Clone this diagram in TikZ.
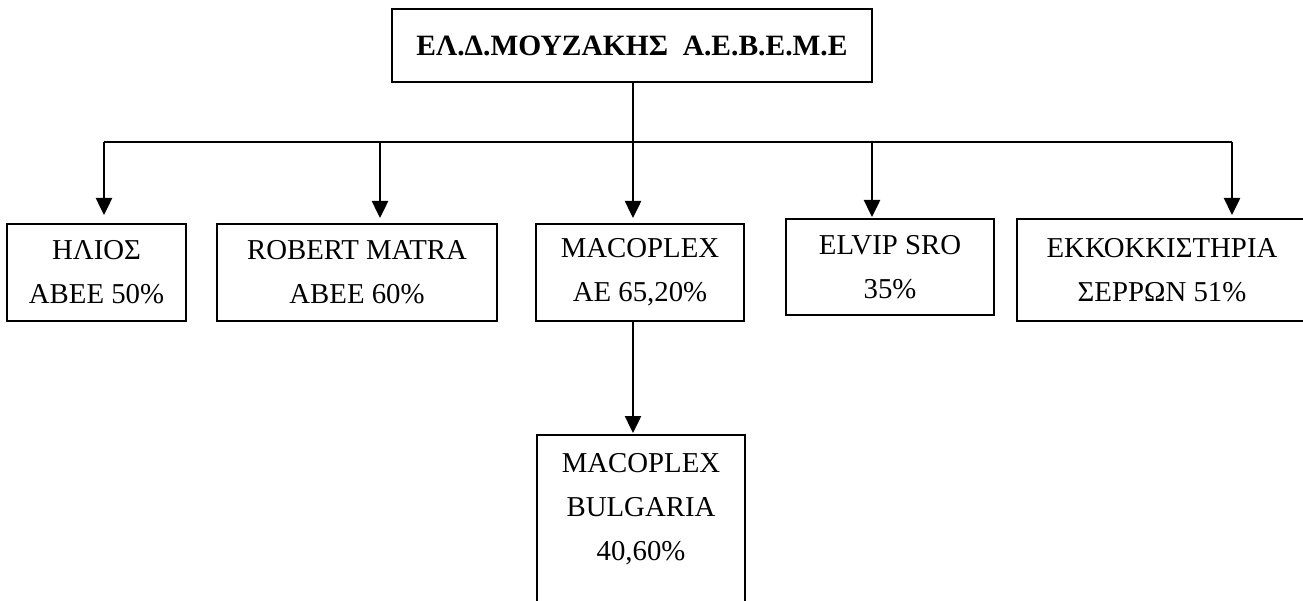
\documentclass[tikz,border=0pt]{standalone}
\usepackage{fontspec}
\setmainfont{Liberation Serif}
\usetikzlibrary{arrows.meta}
\begin{document}
\begin{tikzpicture}[x=1pt,y=-1pt,
  box/.style={draw, line width=1.8pt, rectangle, inner sep=0pt, outer sep=0pt,
    anchor=north west, align=center, font=\fontsize{28.8}{44}\selectfont},
  lbl/.style={inner sep=0pt, outer sep=0pt, align=center, font=\fontsize{28.8}{44}\selectfont},
  thinconn/.style={line width=1.4pt},
  conn/.style={line width=2pt},
  arr/.style={line width=2.5pt, -{Triangle[width=16pt,length=17pt]}}]
\useasboundingbox (0,0) rectangle (1303,601);
\clip (0,0) rectangle (1303,601);
\fill[white] (0,0) rectangle (1303,601);
\node[box, minimum width=480pt, minimum height=73pt, font=\bfseries\fontsize{29.5}{35}\selectfont] (top) at (392,9) {ΕΛ.Δ.ΜΟΥΖΑΚΗΣ\ \ Α.Ε.Β.Ε.Μ.Ε};
\node[box, minimum width=179pt, minimum height=97pt] (helios) at (7,224) {ΗΛΙΟΣ\\ΑΒΕΕ 50\%};
\node[box, minimum width=280pt, minimum height=97pt] (robert) at (217,224) {ROBERT MATRA\\ΑΒΕΕ 60\%};
\node[box, minimum width=208pt, minimum height=97pt] (macoplex) at (536,224) {MACOPLEX\\ΑΕ 65,20\%};
\node[box, minimum width=208pt, minimum height=96pt] (elvip) at (786,219) {ELVIP SRO\\35\%};
\node[box, minimum width=290pt, minimum height=102pt] (ekko) at (1017,219) {ΕΚΚΟΚΚΙΣΤΗΡΙΑ\\ΣΕΡΡΩΝ 51\%};
\node[box, minimum width=208pt, minimum height=200pt] (bulg) at (537,435) {};
\node[lbl, anchor=north] (bulgtext) at ([yshift=-18pt]bulg.north) {MACOPLEX\\BULGARIA\\40,60\%};
\coordinate (j1) at (104,142);
\coordinate (j2) at (380,142);
\coordinate (j3) at (633,142);
\coordinate (j4) at (872,142);
\coordinate (j5) at (1232,142);
\draw[thinconn] (j3 |- top.south) -- (j3);
\draw[conn] (j1) -- (j5);
\draw[arr, shorten >=9pt] (j1) -- (j1 |- helios.north);
\draw[arr, shorten >=6pt] (j2) -- (j2 |- robert.north);
\draw[arr, shorten >=6pt] (j3) -- (j3 |- macoplex.north);
\draw[arr, shorten >=2pt] (j4) -- (j4 |- elvip.north);
\draw[arr, shorten >=4pt] (j5) -- (j5 |- ekko.north);
\draw[arr, shorten >=2pt] (j3 |- macoplex.south) -- (j3 |- bulg.north);
\end{tikzpicture}
\end{document}
